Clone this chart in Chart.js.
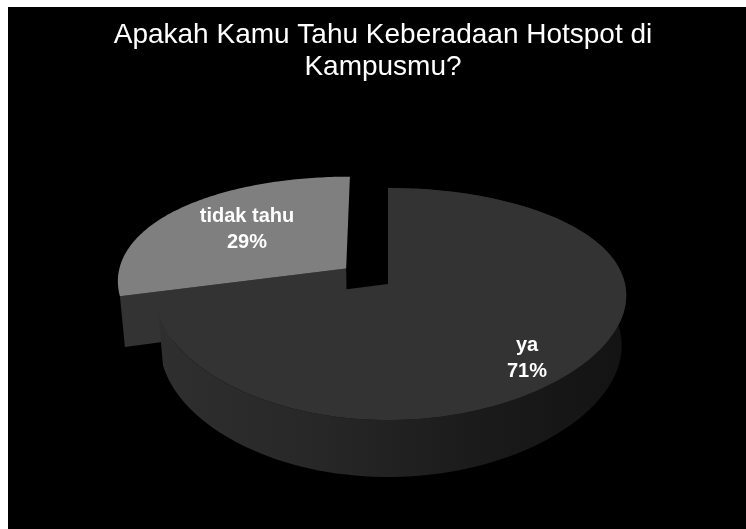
<!DOCTYPE html>
<html>
<head>
<meta charset="utf-8">
<script src="https://cdn.jsdelivr.net/npm/chart.js@4"></script>
<style>
  html, body { margin: 0; background: #fff; overflow: hidden; }
  #wrap { position: absolute; left: 8px; top: 7px; width: 738px; height: 522px; background: #000; }
</style>
</head>
<body>
<div id="wrap"><canvas id="chart" width="738" height="522"></canvas></div>
<script>
const titleLines = ['Apakah Kamu Tahu Keberadaan Hotspot di', 'Kampusmu?'];
const categories = ['ya', 'tidak tahu'];
const percents = [71, 29];

const sliceColors = ['#333333', '#7f7f7f'];

// Perspective of the tilted disc, in canvas pixels
const view = { cx: 380, cy: 277, a: 234, b: 112.6, py: 0.1724, px: 0.1, q: -0.013, depth: 50.8, dw: 0.019 };
// Only the second slice is pulled out of the pie
const explode = [0, 0.23];
const labelAnchors = [[519, 351], [239, 222]];

// u/v are on the unit disc, z = 0 top face, z = 1 bottom face
const project = (u, v, z) => ({
  x: view.cx + view.a * u / (1 + view.px * v + view.q * u + view.dw * z),
  y: view.cy + (-view.b * v + view.depth * z) / (1 + view.py * v + view.dw * z)
});

const arcPoints = (arc, index, z, reverse) => {
  const mid = (arc.startAngle + arc.endAngle) / 2;
  const du = Math.cos(mid) * explode[index];
  const dv = -Math.sin(mid) * explode[index];
  const pts = [];
  const steps = 120;
  for (let i = 0; i <= steps; i++) {
    const t = arc.startAngle + (arc.endAngle - arc.startAngle) * i / steps;
    pts.push(project(Math.cos(t) + du, -Math.sin(t) + dv, z));
  }
  return reverse ? pts.reverse() : pts;
};

const apexPoint = (arc, index, z) => {
  const mid = (arc.startAngle + arc.endAngle) / 2;
  return project(Math.cos(mid) * explode[index], -Math.sin(mid) * explode[index], z);
};

const fillPath = (ctx, pts, fill) => {
  ctx.beginPath();
  pts.forEach((p, i) => (i ? ctx.lineTo(p.x, p.y) : ctx.moveTo(p.x, p.y)));
  ctx.closePath();
  ctx.fillStyle = fill;
  ctx.fill();
};

// Replaces the flat arc drawing with the 3D look, angles still come from the pie controller
const pie3d = {
  id: 'pie3d',
  beforeDatasetDraw(chart, args) {
    const { ctx } = chart;
    const arcs = args.meta.data;

    const wall = ctx.createLinearGradient(150, 0, 620, 0);
    wall.addColorStop(0, '#2f2f2f');
    wall.addColorStop(0.35, '#272727');
    wall.addColorStop(0.7, '#1a1a1a');
    wall.addColorStop(1, '#131313');

    // pulled out slice first, it sits behind the big one
    const slice = arcs[1];
    const sTop = arcPoints(slice, 1, 0);
    const sBottom = arcPoints(slice, 1, 1);
    fillPath(ctx, [apexPoint(slice, 1, 0), sTop[0], sBottom[0], apexPoint(slice, 1, 1)], sliceColors[0]);
    fillPath(ctx, [apexPoint(slice, 1, 0), ...sTop], slice.options.backgroundColor);

    const big = arcs[0];
    fillPath(ctx, [...arcPoints(big, 0, 0), ...arcPoints(big, 0, 1, true)], wall);
    fillPath(ctx, [apexPoint(big, 0, 0), ...arcPoints(big, 0, 0)], big.options.backgroundColor);

    // labels
    ctx.save();
    ctx.fillStyle = '#fff';
    ctx.font = 'bold 20px "Liberation Sans", Arial, sans-serif';
    ctx.textAlign = 'center';
    ctx.textBaseline = 'middle';
    categories.forEach((name, i) => {
      const [x, y] = labelAnchors[i];
      ctx.fillText(name, x, y - 13);
      ctx.fillText(percents[i] + '%', x, y + 13);
    });
    ctx.restore();
    return false;
  }
};

new Chart(document.getElementById('chart'), {
  type: 'pie',
  data: {
    labels: categories,
    datasets: [{ data: percents, backgroundColor: sliceColors, borderWidth: 0 }]
  },
  options: {
    responsive: false,
    animation: false,
    layout: { padding: { left: 12 } },
    events: [],
    plugins: {
      legend: { display: false },
      tooltip: { enabled: false },
      title: {
        display: true,
        text: titleLines,
        color: '#fff',
        font: { family: '"Liberation Sans", Arial, sans-serif', size: 28, weight: 'normal', lineHeight: 1.14 },
        padding: { top: 12, bottom: 10 }
      }
    }
  },
  plugins: [pie3d]
});
</script>
</body>
</html>
